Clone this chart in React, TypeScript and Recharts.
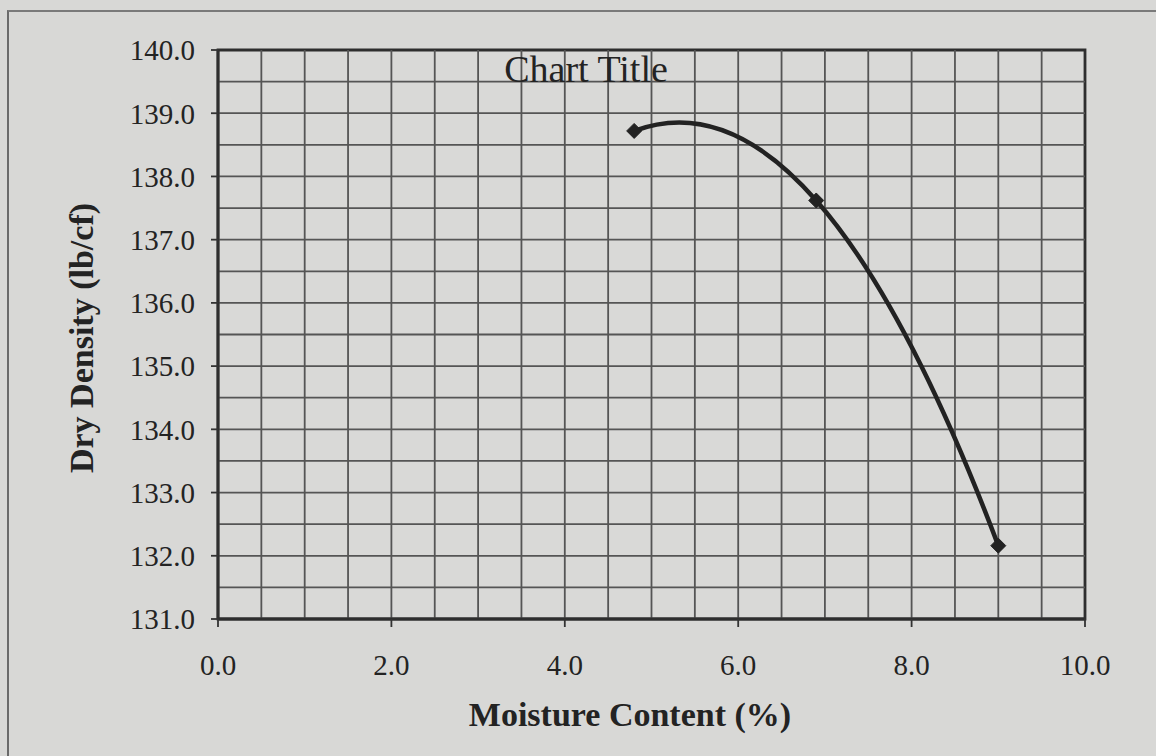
import React from 'react';
import {
  ComposedChart,
  Line,
  XAxis,
  YAxis,
  ReferenceArea,
  ReferenceLine,
} from 'recharts';

// ---- data ----
const moisture = [4.8, 6.9, 9.0];
const density = [138.72, 137.62, 132.16];

const xTicks = [0, 2, 4, 6, 8, 10];
const yTicks = [131, 132, 133, 134, 135, 136, 137, 138, 139, 140];
const xGridValues = [0.5, 1, 1.5, 2, 2.5, 3, 3.5, 4, 4.5, 5, 5.5, 6, 6.5, 7, 7.5, 8, 8.5, 9, 9.5];
const yGridValues = [131.5, 132, 132.5, 133, 133.5, 134, 134.5, 135, 135.5, 136, 136.5, 137, 137.5, 138, 138.5, 139, 139.5];

const chartTitle = 'Chart Title';
const xTitle = 'Moisture Content (%)';
const yTitle = 'Dry Density (lb/cf)';

const data = moisture.map((m, i) => ({ moisture: m, density: density[i] }));

const FONT = '"Liberation Serif", "Times New Roman", serif';
const INK = '#232323';
const GRID = '#555555';

// Smoothed curve (Catmull-Rom style Bezier, parabolic end tangents) like a spreadsheet "smoothed line"
function smoothCurve(context: any) {
  let pts: number[][] = [];
  return {
    areaStart() {},
    areaEnd() {},
    lineStart() {
      pts = [];
    },
    point(x: number, y: number) {
      pts.push([+x, +y]);
    },
    lineEnd() {
      const n = pts.length;
      if (n === 0) return;
      context.moveTo(pts[0][0], pts[0][1]);
      if (n === 1) return;
      if (n === 2) {
        context.lineTo(pts[1][0], pts[1][1]);
        return;
      }
      const t: number[][] = pts.map((_p, i) => {
        if (i === 0 || i === n - 1) return [0, 0];
        return [(pts[i + 1][0] - pts[i - 1][0]) / 2, (pts[i + 1][1] - pts[i - 1][1]) / 2];
      });
      t[0] = [2 * (pts[1][0] - pts[0][0]) - t[1][0], 2 * (pts[1][1] - pts[0][1]) - t[1][1]];
      t[n - 1] = [
        2 * (pts[n - 1][0] - pts[n - 2][0]) - t[n - 2][0],
        2 * (pts[n - 1][1] - pts[n - 2][1]) - t[n - 2][1],
      ];
      for (let i = 0; i < n - 1; i++) {
        const p0 = pts[i];
        const p1 = pts[i + 1];
        context.bezierCurveTo(
          p0[0] + t[i][0] / 3,
          p0[1] + t[i][1] / 3,
          p1[0] - t[i + 1][0] / 3,
          p1[1] - t[i + 1][1] / 3,
          p1[0],
          p1[1]
        );
      }
    },
  };
}

const Diamond = (props: any) => {
  const { cx, cy } = props;
  if (cx == null || cy == null) return null;
  const r = 7.5;
  return (
    <polygon
      points={`${cx},${cy - r} ${cx + r},${cy} ${cx},${cy + r} ${cx - r},${cy}`}
      fill="#222"
      stroke="#222"
      strokeWidth={1}
    />
  );
};

export default function App() {
  return (
    <div
      style={{
        position: 'absolute',
        left: 0,
        top: 0,
        width: 1156,
        height: 756,
        background: '#d8d8d6',
        overflow: 'hidden',
      }}
    >
      <div
        style={{
          position: 'absolute',
          left: 7,
          top: 10,
          width: 1200,
          height: 800,
          borderLeft: '2px solid #6a6a6a',
          borderTop: '2px solid #7a7a7a',
        }}
      />
      <ComposedChart
        width={1156}
        height={756}
        data={data}
        margin={{ top: 50, right: 71, bottom: 0, left: 0 }}
        style={{ position: 'absolute', left: 0, top: 0 }}
      >
        <XAxis
          dataKey="moisture"
          type="number"
          domain={[0, 10]}
          ticks={xTicks}
          allowDataOverflow
          height={137}
          tickFormatter={(v: number) => v.toFixed(1)}
          tick={{ fill: INK, fontSize: 29, fontFamily: FONT }}
          tickSize={8}
          tickMargin={27}
          tickLine={{ stroke: '#333', strokeWidth: 1.8 }}
          axisLine={{ stroke: '#2e2e2e', strokeWidth: 2.8 }}
        />
        <YAxis
          type="number"
          domain={[131, 140]}
          ticks={yTicks}
          allowDataOverflow
          width={218}
          tickFormatter={(v: number) => v.toFixed(1)}
          tick={{ fill: INK, fontSize: 29, fontFamily: FONT }}
          tickSize={7}
          tickMargin={16}
          tickLine={{ stroke: '#333', strokeWidth: 1.8 }}
          axisLine={{ stroke: '#2e2e2e', strokeWidth: 2.8 }}
        />
        <ReferenceArea
          x1={0}
          x2={10}
          y1={131}
          y2={140}
          fill="#d9d9d7"
          fillOpacity={1}
          stroke="none"
        />
        {xGridValues.map((v) => (
          <ReferenceLine key={`gx${v}`} x={v} stroke={GRID} strokeWidth={1.8} />
        ))}
        {yGridValues.map((v) => (
          <ReferenceLine key={`gy${v}`} y={v} stroke={GRID} strokeWidth={1.8} />
        ))}
        <ReferenceArea
          x1={0}
          x2={10}
          y1={131}
          y2={140}
          fill="none"
          fillOpacity={0}
          stroke="#2e2e2e"
          strokeWidth={2.8}
          strokeOpacity={1}
        />
        <Line
          dataKey="density"
          type={smoothCurve as any}
          stroke="#222"
          strokeWidth={4.5}
          dot={<Diamond />}
          activeDot={false}
          isAnimationActive={false}
        />
      </ComposedChart>
      <svg
        width={1156}
        height={756}
        style={{ position: 'absolute', left: 0, top: 0, pointerEvents: 'none' }}
      >
        <text
          x={586}
          y={82}
          textAnchor="middle"
          fontFamily={FONT}
          fontSize={38}
          fill={INK}
        >
          {chartTitle}
        </text>
        <text
          x={630}
          y={726}
          textAnchor="middle"
          fontFamily={FONT}
          fontSize={34}
          fontWeight="bold"
          fill={INK}
        >
          {xTitle}
        </text>
        <text
          x={93}
          y={338}
          textAnchor="middle"
          fontFamily={FONT}
          fontSize={34}
          fontWeight="bold"
          fill={INK}
          transform="rotate(-90 93 338)"
        >
          {yTitle}
        </text>
      </svg>
    </div>
  );
}
